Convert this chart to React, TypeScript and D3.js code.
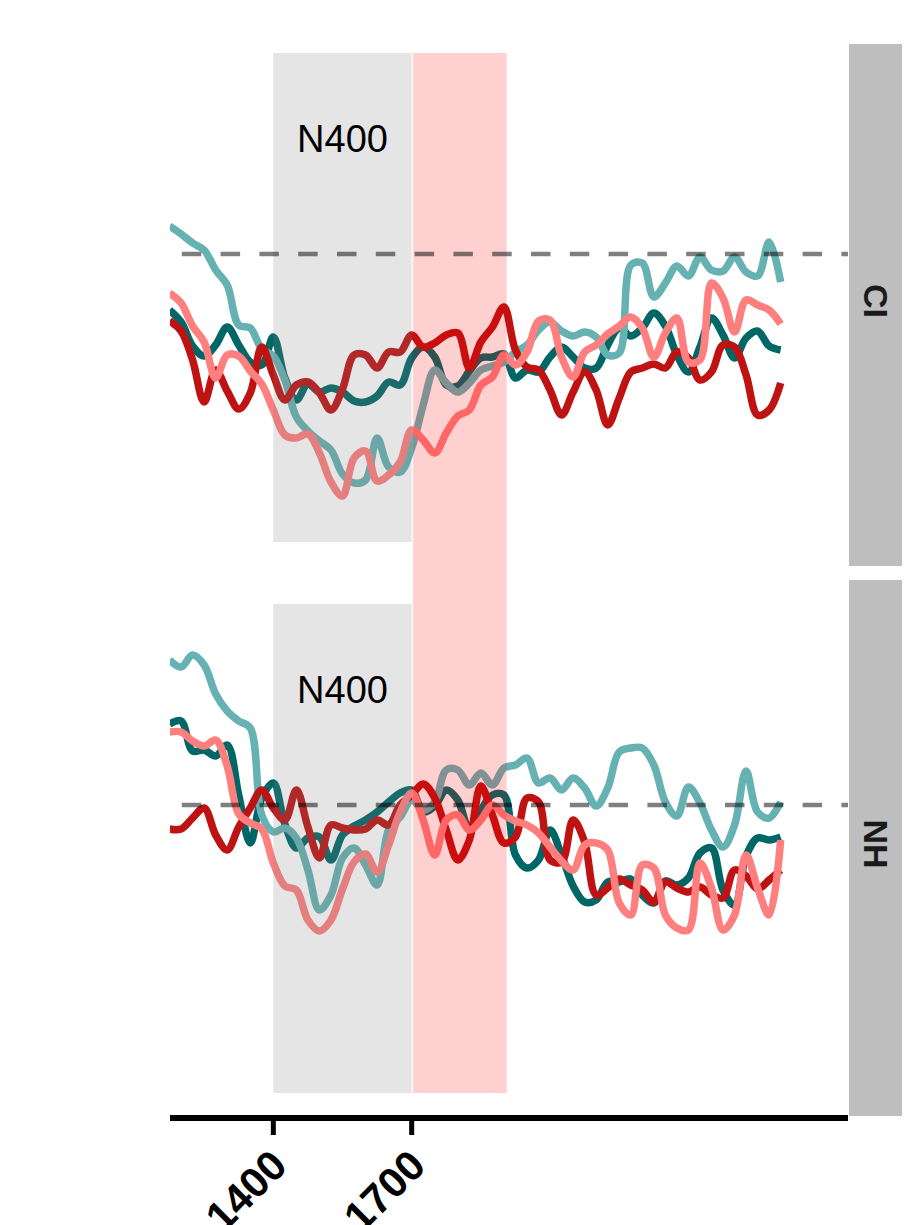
import * as d3 from "d3";

// sampling grid (ms)
const times = [
  1175, 1200, 1225, 1250, 1275, 1300, 1325, 1350, 1375, 1400, 1425, 1450, 1475, 1500,
  1525, 1550, 1575, 1600, 1625, 1650, 1675, 1700, 1725, 1750, 1775, 1800, 1825, 1850,
  1875, 1900, 1925, 1950, 1975, 2000, 2025, 2050, 2075, 2100, 2125, 2150, 2175, 2200,
  2225, 2250, 2275, 2300, 2325, 2350, 2375, 2400, 2425, 2450, 2475, 2500,
];

// CI panel
const ciDarkTeal = [
  -1.12, -1.36, -1.84, -2.04, -1.82, -1.46, -1.82, -2.16, -2.22, -1.66, -2.48, -2.92, -2.6, -2.76,
  -2.68, -2.76, -2.94, -2.96, -2.84, -2.56, -2.62, -2.08, -1.86, -2.06, -2.62, -2.64, -2.34, -2.08,
  -2.06, -2.0, -2.48, -2.32, -2.36, -2.06, -1.86, -2.06, -2.28, -2.28, -1.82, -1.48, -1.64, -1.48,
  -1.18, -1.44, -2.02, -2.36, -1.86, -1.28, -1.62, -2.08, -1.68, -1.54, -1.84, -1.92,
];
const ciLightTeal = [
  0.56, 0.4, 0.22, 0.08, -0.32, -0.62, -1.42, -1.48, -1.9, -2.04, -2.52, -3.26, -3.54, -3.74,
  -3.92, -4.4, -4.58, -4.52, -3.68, -4.26, -4.36, -3.88, -3.02, -2.32, -2.58, -2.76, -2.58, -2.32,
  -2.24, -2.16, -1.96, -1.82, -1.52, -1.36, -1.54, -1.64, -1.56, -1.66, -2.02, -1.98, -0.22, -0.18,
  -0.86, -0.58, -0.24, -0.44, -0.06, -0.32, -0.34, -0.06, -0.36, -0.44, 0.24, -0.56,
];
const ciDarkRed = [
  -1.34, -1.54, -2.12, -2.96, -2.32, -2.74, -3.1, -2.78, -1.86, -2.42, -2.92, -2.62, -2.56, -2.78,
  -3.12, -2.7, -2.02, -2.02, -2.28, -1.96, -1.96, -1.62, -1.86, -1.78, -1.62, -1.58, -2.28, -1.76,
  -1.46, -1.06, -1.92, -2.26, -2.32, -2.72, -3.22, -2.76, -2.36, -2.72, -3.42, -2.88, -2.36, -2.28,
  -2.2, -2.28, -1.96, -2.08, -2.52, -2.36, -1.82, -1.86, -2.42, -3.22, -3.12, -2.58,
];
const ciSalmon = [
  -0.78, -0.98, -1.44, -1.76, -2.48, -2.02, -2.04, -2.34, -2.6, -3.12, -3.62, -3.68, -3.6, -3.98,
  -4.56, -4.84, -4.08, -3.94, -4.54, -4.42, -4.16, -3.52, -3.72, -3.98, -3.58, -3.24, -3.12, -2.62,
  -2.46, -2.02, -2.22, -1.96, -1.34, -1.32, -2.06, -2.46, -1.96, -1.82, -1.6, -1.44, -1.26, -1.48,
  -2.06, -1.58, -1.28, -2.16, -2.12, -0.58, -0.88, -1.56, -0.92, -1.02, -1.12, -1.4,
];

// NH panel
const nhDarkTeal = [
  1.62, 1.68, 1.08, 1.1, 0.98, 1.2, 0.2, -0.76, 0.14, 0.44, -0.38, -0.86, -0.66, -0.64,
  -1.1, -0.6, -0.42, -0.3, -0.14, 0.06, 0.24, 0.3, -0.14, -0.02, 0.3, 0.1, -0.48, -0.1,
  0.2, 0.2, -1.0, -1.26, -1.1, -0.5, -1.0, -1.62, -1.94, -1.9, -1.54, -1.54, -1.48, -1.8,
  -1.96, -1.52, -1.6, -1.46, -0.96, -0.86, -1.7, -2.0, -1.02, -0.66, -0.7, -0.64,
];
const nhLightTeal = [
  2.9, 2.76, 3.0, 2.8, 2.22, 1.88, 1.68, 1.54, -0.2, -0.54, -0.46, -0.66, -1.3, -2.1,
  -1.8, -1.06, -0.86, -1.2, -1.6, -0.5, -0.24, 0.1, -0.1, 0.06, 0.7, 0.7, 0.4, 0.64,
  0.4, 0.74, 0.8, 0.94, 0.44, 0.54, 0.3, 0.54, 0.34, -0.02, 0.34, 1.06, 1.14, 1.14,
  0.8, 0.06, -0.22, 0.36, 0.04, -0.5, -0.84, -0.4, 0.68, -0.14, -0.26, 0.06,
];
const nhDarkRed = [
  -0.48, -0.48, -0.26, -0.06, -0.6, -0.9, -0.44, -0.06, 0.3, -0.06, -0.3, 0.3, -0.44, -1.06,
  -0.4, -0.46, -0.5, -0.48, -0.3, -0.4, 0.0, 0.2, 0.42, 0.14, -0.5, -1.1, -0.7, 0.38,
  -0.2, -0.76, -0.64, 0.14, 0.06, -1.1, -1.14, -0.3, -0.74, -1.8, -1.66, -1.48, -1.6, -1.7,
  -1.94, -1.54, -1.66, -1.74, -1.64, -1.8, -1.86, -1.3, -1.42, -1.68, -1.5, -1.3,
];
const nhSalmon = [
  1.46, 1.46, 1.28, 1.18, 1.3, 0.78, -0.18, -0.36, -0.48, -1.16, -1.62, -1.7, -2.3, -2.52,
  -2.3, -1.68, -1.14, -0.98, -1.34, -0.8, -0.14, 0.24, -0.3, -1.0, -0.3, -0.2, -0.5, -0.3,
  0.0, -0.2, -0.32, -0.4, -0.56, -0.84, -1.12, -1.3, -0.8, -0.76, -0.9, -1.96, -2.2, -1.2,
  -1.26, -2.2, -2.46, -2.5, -1.16, -1.66, -2.5, -2.2, -1.0, -1.66, -2.2, -0.7,
];

const xTicks = [1400, 1700];
const n400Window = [1400, 1700];
const pinkWindow = [1703, 1906];
const windowY = [-5.76, 4.02];
const n400LabelY = 2.04;

const seriesStyle = [
  { key: "darkTeal", color: "#006666" },
  { key: "lightTeal", color: "#66b2b2" },
  { key: "darkRed", color: "#bf1212" },
  { key: "salmon", color: "#ff7f7f" },
];

const panels = [
  {
    name: "CI",
    top: 44,
    bottom: 566,
    domain: [-6.24, 4.2],
    data: { darkTeal: ciDarkTeal, lightTeal: ciLightTeal, darkRed: ciDarkRed, salmon: ciSalmon },
  },
  {
    name: "NH",
    top: 580,
    bottom: 1116,
    domain: [-6.22, 4.5],
    data: { darkTeal: nhDarkTeal, lightTeal: nhLightTeal, darkRed: nhDarkRed, salmon: nhSalmon },
  },
];

export default function App() {
  const width = 904;
  const height = 1225;
  const left = 170;
  const right = 848;
  const stripW = 53;
  const axisY = 1118;
  const font = "'Liberation Sans', Arial, Helvetica, sans-serif";

  const x = d3.scaleLinear().domain([1176, 2646]).range([left, right]);
  const yScales = panels.map((p) =>
    d3.scaleLinear().domain(p.domain).range([p.bottom, p.top])
  );

  const yCI = yScales[0];
  const yNH = yScales[1];

  return (
    <svg
      width={width}
      height={height}
      style={{ position: "absolute", left: 0, top: 0, background: "#fff" }}
      fontFamily={font}
    >
      <defs>
        {panels.map((p, i) => (
          <clipPath id={`clip-${i}`} key={p.name}>
            <rect x={left} y={p.top} width={right - left} height={p.bottom - p.top} />
          </clipPath>
        ))}
      </defs>

      {/* lines */}
      {panels.map((p, pi) => {
        const y = yScales[pi];
        const line = d3
          .line<number>()
          .x((_, i) => x(times[i]))
          .y((d) => y(d))
          .curve(d3.curveCatmullRom.alpha(0.5));
        return (
          <g key={p.name} clipPath={`url(#clip-${pi})`}>
            {seriesStyle.map((s) => (
              <path
                key={s.key}
                d={line((p.data as any)[s.key]) || ""}
                fill="none"
                stroke={s.color}
                strokeWidth={7.5}
                strokeLinejoin="round"
                strokeLinecap="butt"
              />
            ))}
          </g>
        );
      })}

      {/* N400 windows */}
      {panels.map((p, pi) => {
        const y = yScales[pi];
        return (
          <rect
            key={p.name}
            x={x(n400Window[0])}
            width={x(n400Window[1]) - x(n400Window[0])}
            y={y(windowY[1])}
            height={y(windowY[0]) - y(windowY[1])}
            fill="#7f7f7f"
            fillOpacity={0.205}
          />
        );
      })}

      {/* second window spans both panels */}
      <rect
        x={x(pinkWindow[0])}
        width={x(pinkWindow[1]) - x(pinkWindow[0])}
        y={yCI(windowY[1])}
        height={yNH(windowY[0]) - yCI(windowY[1])}
        fill="#ff0000"
        fillOpacity={0.185}
      />

      {/* zero lines */}
      {panels.map((p, pi) => {
        const y = yScales[pi];
        return (
          <line
            key={p.name}
            x1={left}
            x2={right}
            y1={y(0)}
            y2={y(0)}
            stroke="#000"
            strokeOpacity={0.5}
            strokeWidth={4.5}
            strokeDasharray="19.5 19.3"
            strokeDashoffset={27}
          />
        );
      })}

      {/* N400 labels */}
      {panels.map((p, pi) => (
        <text
          key={p.name}
          x={x((n400Window[0] + n400Window[1]) / 2)}
          y={yScales[pi](n400LabelY)}
          textAnchor="middle"
          fontSize={38}
          fill="#000"
        >
          N400
        </text>
      ))}

      {/* facet strips */}
      {panels.map((p) => (
        <g key={p.name}>
          <rect x={right + 1} y={p.top} width={stripW} height={p.bottom - p.top} fill="#bebebe" />
          <text
            transform={`translate(${right + 1 + stripW / 2},${(p.top + p.bottom) / 2 - 4}) rotate(90)`}
            textAnchor="middle"
            dominantBaseline="central"
            fontSize={34}
            fontWeight="bold"
            fill="#1a1a1a"
          >
            {p.name}
          </text>
        </g>
      ))}

      {/* x axis */}
      <line x1={left} x2={right} y1={axisY} y2={axisY} stroke="#000" strokeWidth={6} />
      {xTicks.map((t) => (
        <g key={t}>
          <line x1={x(t)} x2={x(t)} y1={axisY} y2={axisY + 17} stroke="#000" strokeWidth={5} />
          <text
            transform={`translate(${x(t) + 16},${axisY + 50}) rotate(-45)`}
            textAnchor="end"
            fontSize={42}
            fontWeight="bold"
            fill="#000"
          >
            {t}
          </text>
        </g>
      ))}
    </svg>
  );
}
